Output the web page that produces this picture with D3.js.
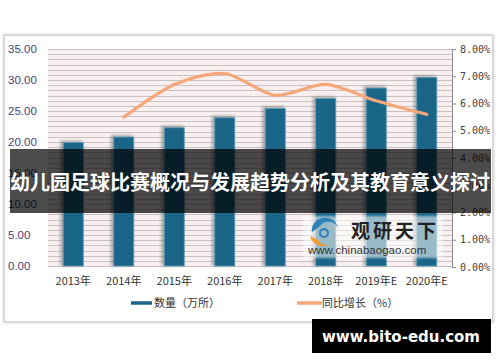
<!DOCTYPE html>
<html>
<head>
<meta charset="utf-8">
<script src="https://cdn.jsdelivr.net/npm/d3@7"></script>
<style>
  html, body { margin: 0; padding: 0; background: #fff; }
  svg { display: block; }
</style>
</head>
<body>
<svg width="500" height="362"></svg>
<script>
// chart data
var years = ["2013年", "2014年", "2015年", "2016年", "2017年", "2018年", "2019年E", "2020年E"];
var counts = [19.9, 20.8, 22.3, 23.9, 25.4, 27.0, 28.7, 30.4];
var growth = [null, 5.5, 6.7, 7.1, 6.3, 6.7, 6.1, 5.6];
var leftTicks = [0, 5, 10, 15, 20, 25, 30, 35];
var rightTicks = [0, 1, 2, 3, 4, 5, 6, 7, 8];
var legendLabels = ["数量（万所）", "同比增长（%）"];
var bannerTitle = "幼儿园足球比赛概况与发展趋势分析及其教育意义探讨";
var footerText = "www.bito-edu.com";

var svg = d3.select("svg");
var defs = svg.append("defs");

var blur = defs.append("filter").attr("id", "sh")
    .attr("x", "-50%").attr("y", "-10%").attr("width", "200%").attr("height", "120%");
blur.append("feGaussianBlur").attr("stdDeviation", 1.5);

var fb = defs.append("filter").attr("id", "fr")
    .attr("x", "-5%").attr("y", "-5%").attr("width", "110%").attr("height", "110%");
fb.append("feGaussianBlur").attr("stdDeviation", 1.2);

// outer frame
svg.append("rect").attr("x", 3).attr("y", 34).attr("width", 491).attr("height", 289)
    .attr("fill", "#cfcfcf").attr("filter", "url(#fr)");
svg.append("rect").attr("x", 5).attr("y", 36).attr("width", 487).attr("height", 285)
    .attr("fill", "#fff");

var plotL = 48, plotR = 452, plotT = 49, plotB = 266;

var x = d3.scaleBand().domain(years).range([plotL, plotR]);
var yL = d3.scaleLinear().domain([0, 35]).range([plotB, plotT]);
var yR = d3.scaleLinear().domain([0, 8]).range([plotB + 1, plotT]);

// plot background with striped gridlines
svg.append("rect").attr("x", plotL).attr("y", plotT).attr("width", plotR - plotL).attr("height", plotB - plotT)
    .attr("fill", "#f8f0f0");
svg.append("g").selectAll("line")
    .data(d3.range(0, 35.01, 5 / 6))
    .enter().append("line")
    .attr("x1", plotL).attr("x2", plotR)
    .attr("y1", function(d) { return Math.round(yL(d)) + 0.5; })
    .attr("y2", function(d) { return Math.round(yL(d)) + 0.5; })
    .attr("stroke", "#cbc1c1").attr("stroke-width", 1.1);

// left axis labels
svg.append("g").selectAll("text")
    .data(leftTicks).enter().append("text")
    .attr("x", 8).attr("y", function(d) { return yL(d) + 4; })
    .attr("font-family", "Liberation Sans, Arial, sans-serif")
    .attr("font-size", 11.5).attr("fill", "#43437e")
    .text(function(d) { return d.toFixed(2); });

// right axis
var rAxis = svg.append("g").attr("transform", "translate(" + plotR + ",0)")
    .call(d3.axisRight(yR).tickValues(rightTicks).tickSize(4)
        .tickFormat(function(d) { return d.toFixed(2) + "%"; }));
rAxis.select(".domain").attr("stroke", "#8a8a8a");
rAxis.selectAll(".tick line").attr("stroke", "#8a8a8a");
rAxis.selectAll("text").attr("x", 8)
    .attr("font-family", "DejaVu Sans Mono, monospace").attr("font-size", 10)
    .attr("fill", "#444");

// bars: shadow then fill
var bw = 20;
svg.append("g").selectAll("rect")
    .data(counts).enter().append("rect")
    .attr("x", function(d, i) { return x(years[i]) + x.bandwidth() / 2 - bw / 2 - 3; })
    .attr("y", function(d) { return yL(d) - 2; })
    .attr("width", bw + 2)
    .attr("height", function(d) { return plotB - yL(d) + 2; })
    .attr("fill", "#6e6e6e").attr("opacity", 0.55).attr("filter", "url(#sh)");
svg.append("g").selectAll("rect")
    .data(counts).enter().append("rect")
    .attr("x", function(d, i) { return x(years[i]) + x.bandwidth() / 2 - bw / 2; })
    .attr("y", function(d) { return yL(d); })
    .attr("width", bw)
    .attr("height", function(d) { return plotB - yL(d); })
    .attr("fill", "#1a6689").attr("stroke", "#5f9dbb").attr("stroke-width", 0.8);

// growth line
var lineGen = d3.line()
    .defined(function(d) { return d != null; })
    .x(function(d, i) { return x(years[i]) + x.bandwidth() / 2; })
    .y(function(d) { return yR(d); })
    .curve(d3.curveCardinal.tension(0.2));
svg.append("path").datum(growth)
    .attr("d", lineGen)
    .attr("fill", "none").attr("stroke", "#f5a779").attr("stroke-width", 3.2)
    .attr("stroke-linecap", "round");

// category labels
svg.append("g").selectAll("text")
    .data(years).enter().append("text")
    .attr("x", function(d) { return x(d) + x.bandwidth() / 2; })
    .attr("y", 285)
    .attr("text-anchor", "middle")
    .attr("font-family", "Noto Sans CJK SC, sans-serif")
    .attr("font-size", 11).attr("fill", "#333")
    .text(function(d) { return d; });

// legend
var lg = svg.append("g");
lg.append("line").attr("x1", 131).attr("x2", 152).attr("y1", 303).attr("y2", 303)
    .attr("stroke", "#1a6689").attr("stroke-width", 3.5);
lg.append("text").attr("x", 154).attr("y", 307).text(legendLabels[0]);
lg.append("line").attr("x1", 297).attr("x2", 322).attr("y1", 303).attr("y2", 303)
    .attr("stroke", "#f5a779").attr("stroke-width", 3.5);
lg.append("text").attr("x", 322).attr("y", 307).text(legendLabels[1]);
lg.selectAll("text").attr("font-family", "Noto Sans CJK SC, sans-serif")
    .attr("font-size", 11).attr("fill", "#333");

// watermark
var wm = svg.append("g");
wm.append("rect").attr("x", 303).attr("y", 216).attr("width", 140).attr("height", 42)
    .attr("fill", "#fff").attr("opacity", 0.55).attr("filter", "url(#fr)");
wm.append("path").attr("d", "M310,236 A14,12 0 0 0 336,240 A10,9 0 0 1 318,240 Z")
    .attr("fill", "#f39a2b");
wm.append("path").attr("d", "M312,232 A13,12 0 0 1 338,228 A10,9 0 0 0 320,226 Z")
    .attr("fill", "#2f7fb8");
wm.append("circle").attr("cx", 324).attr("cy", 233).attr("r", 4)
    .attr("fill", "none").attr("stroke", "#2f7fb8").attr("stroke-width", 2);
wm.append("text").attr("x", 351).attr("y", 238)
    .attr("font-family", "Noto Sans CJK SC, sans-serif").attr("font-weight", "bold")
    .attr("font-size", 19).attr("fill", "#222").attr("letter-spacing", 3)
    .text("观研天下");
wm.append("text").attr("x", 308).attr("y", 254)
    .attr("font-family", "Liberation Sans, Arial, sans-serif")
    .attr("font-size", 11.5).attr("fill", "#333")
    .text("www.chinabaogao.com");

// dark banner with title
svg.append("rect").attr("x", 10).attr("y", 149).attr("width", 481).attr("height", 64)
    .attr("fill", "#000").attr("opacity", 0.7);
svg.append("text").attr("x", 250).attr("y", 190)
    .attr("text-anchor", "middle")
    .attr("font-family", "Noto Sans CJK SC, sans-serif").attr("font-weight", "bold")
    .attr("font-size", 20).attr("fill", "#fff")
    .text(bannerTitle);

// footer tag
svg.append("rect").attr("x", 312).attr("y", 319).attr("width", 179).attr("height", 34)
    .attr("fill", "#000");
svg.append("text").attr("x", 401).attr("y", 342)
    .attr("text-anchor", "middle")
    .attr("font-family", "DejaVu Sans, sans-serif").attr("font-weight", "bold")
    .attr("font-size", 15).attr("fill", "#fff")
    .text(footerText);
</script>
</body>
</html>
